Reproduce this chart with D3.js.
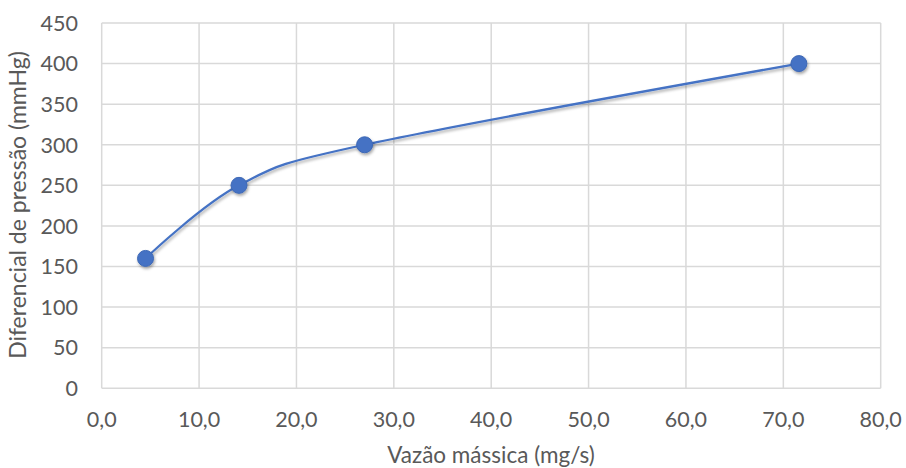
<!DOCTYPE html>
<html><head><meta charset="utf-8">
<script src="https://cdn.jsdelivr.net/npm/d3@7"></script>
<style>
html,body{margin:0;padding:0;background:#fff;}
svg{display:block;font-family:Lato,"Open Sans",sans-serif;}
</style></head>
<body>
<svg id="chart" width="906" height="468"></svg>
<script>
const massFlow = [4.5, 14.1, 27.0, 71.6];
const pressureDiff = [160, 250, 300, 400];
const xTicks = [0, 10, 20, 30, 40, 50, 60, 70, 80];
const yTicks = [0, 50, 100, 150, 200, 250, 300, 350, 400, 450];
const xTitle = "Vazão mássica (mg/s)";
const yTitle = "Diferencial de pressão (mmHg)";

const svg = d3.select("#chart");
const x = d3.scaleLinear().domain([0, 80]).range([101.7, 880.7]);
const y = d3.scaleLinear().domain([0, 450]).range([388.3, 23]);

const defs = svg.append("defs");
const f = defs.append("filter").attr("id","sh").attr("x","-50%").attr("y","-50%").attr("width","200%").attr("height","200%");
f.append("feDropShadow").attr("dx",1).attr("dy",2).attr("stdDeviation",1.8).attr("flood-color","#000").attr("flood-opacity",0.35);

const grid = svg.append("g").attr("stroke","#d9d9d9").attr("stroke-width",1.5);
grid.selectAll(".gy").data(yTicks).join("line")
  .attr("x1", x(0)).attr("x2", x(80))
  .attr("y1", d=>y(d)).attr("y2", d=>y(d));
grid.selectAll(".gx").data(xTicks).join("line")
  .attr("y1", y(0)).attr("y2", y(450))
  .attr("x1", d=>x(d)).attr("x2", d=>x(d));

const fmt = d => d.toFixed(1).replace(".", ",");
svg.append("g").selectAll("text").data(yTicks).join("text")
  .attr("x", 78).attr("y", d=>y(d)).attr("dy","0.36em")
  .attr("text-anchor","end").attr("fill","#595959").attr("font-size",21.5)
  .text(d=>d);
svg.append("g").selectAll("text").data(xTicks).join("text")
  .attr("x", d=>x(d)).attr("y", 427)
  .attr("text-anchor","middle").attr("fill","#595959").attr("font-size",21.5)
  .text(fmt);

svg.append("text").attr("x", 491).attr("y", 463).attr("text-anchor","middle")
  .attr("fill","#595959").attr("font-size",22.5).text(xTitle);
svg.append("text").attr("transform","translate(26,205) rotate(-90)").attr("text-anchor","middle")
  .attr("fill","#595959").attr("font-size",23).text(yTitle);

const pts = massFlow.map((m,i)=>[m, pressureDiff[i]]);
const line = d3.line().x(d=>x(d[0])).y(d=>y(d[1])).curve(d3.curveCatmullRom.alpha(0));
svg.append("path").datum(pts).attr("d", line).attr("fill","none")
  .attr("stroke","#4472c4").attr("stroke-width",2.25).attr("filter","url(#sh)");
svg.append("g").selectAll("circle").data(pts).join("circle")
  .attr("cx", d=>x(d[0])).attr("cy", d=>y(d[1])).attr("r", 8)
  .attr("fill","#4472c4").attr("stroke","#3e68b5").attr("stroke-width",1)
  .attr("filter","url(#sh)");
</script>
</body></html>
